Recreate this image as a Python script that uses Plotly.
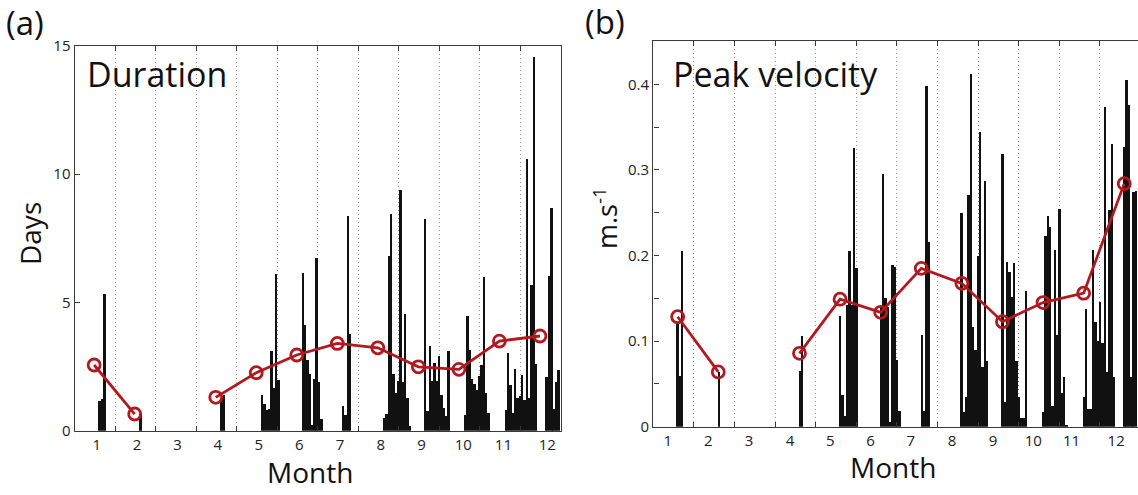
import plotly.graph_objects as go

# ---------------- data ----------------
MONTHS = list(range(1, 13))
MONTH_LABELS = [str(m) for m in MONTHS]

# Bar step (fraction of a month) between consecutive events
BAR_STEP = 0.0575

# Panel (a): event duration (days); clusters = (start position in months, heights)
DUR_CLUSTERS = [
    (0.58, [1.17, 1.26, 5.35]),
    (1.59, [0.68]),
    (3.59, [1.30, 1.42]),
    (4.59, [1.39, 1.04, 0.83, 0.85, 3.12, 1.69, 6.13, 1.97]),
    (5.59, [6.16, 4.12, 2.75, 2.24, 0.22, 2.04, 6.74, 1.91, 0.48]),
    (6.59, [0.97, 0.64, 8.38, 3.79]),
    (7.60, [0.52, 0.67, 6.80, 8.45, 2.24, 1.50, 1.95, 9.40, 1.90, 4.55, 1.30, 0.20]),
    (8.61, [8.25, 0.78, 3.30, 1.95, 2.65, 1.95, 2.91, 1.39, 0.90, 0.60, 3.12]),
    (9.60, [0.64, 4.48, 3.14, 2.04, 1.85, 1.60, 2.13, 2.56, 6.00, 1.47, 0.70]),
    (10.60, [0.82, 3.04, 1.80, 0.70, 2.40, 1.27, 1.36, 2.20, 1.20, 10.58, 1.27, 5.68, 14.57, 2.62]),
    (11.61, [2.10, 6.04, 8.69, 0.85, 1.91, 2.37]),
]
DUR_MEAN = [2.56, 0.65, None, 1.30, 2.26, 2.95, 3.40, 3.23, 2.49, 2.39, 3.49, 3.69]

# Panel (b): peak velocity (m/s)
VEL_CLUSTERS = [
    (0.576, [0.120, 0.060, 0.206]),
    (1.59, [0.064]),
    (3.59, [0.066, 0.106]),
    (4.58, [0.130, 0.037, 0.013, 0.143, 0.206, 0.143, 0.326, 0.186]),
    (5.58, [0.140, 0.296, 0.151, 0.140, 0.006, 0.189, 0.187, 0.078, 0.019]),
    (6.59, [0.108, 0.019, 0.398, 0.216]),
    (7.57, [0.250, 0.018, 0.035, 0.271, 0.413, 0.117, 0.090, 0.200, 0.345, 0.070, 0.287, 0.077]),
    (8.58, [0.319, 0.029, 0.193, 0.181, 0.152, 0.192, 0.077, 0.035, 0.011, 0.011, 0.159]),
    (9.58, [0.018, 0.223, 0.246, 0.234, 0.025, 0.207, 0.108, 0.255, 0.040, 0.058, 0.002]),
    (10.58, [0.035, 0.138, 0.021, 0.021, 0.207, 0.123, 0.100, 0.146, 0.098, 0.374, 0.064, 0.254, 0.331, 0.058]),
    (11.58, [0.327, 0.406, 0.376, 0.058, 0.275, 0.276]),
]
VEL_MEAN = [0.1285, 0.064, None, 0.0857, 0.149, 0.1336, 0.185, 0.1675, 0.1227, 0.145, 0.156, 0.284]

PANEL_TITLES = ["Duration", "Peak velocity"]
PANEL_LETTERS = ["(a)", "(b)"]
Y_TITLES = ["Days", "m.s<sup>-1</sup>"]
X_TITLE = "Month"


# ---------------- build ----------------
def expand(clusters):
    xs, ys = [], []
    for start, heights in clusters:
        for i, h in enumerate(heights):
            xs.append(start + (i + 0.5) * BAR_STEP)
            ys.append(h)
    return xs, ys


FONT = "Open Sans, Noto Sans, sans-serif"
RED = "#b3181f"
BAR = "#111111"
AX = "#3a3a3a"

fig = go.Figure()

dx, dy = expand(DUR_CLUSTERS)
vx, vy = expand(VEL_CLUSTERS)

fig.add_trace(go.Bar(x=dx, y=dy, width=[BAR_STEP * 1.02] * len(dx), marker=dict(color=BAR, line=dict(width=0)),
                     xaxis="x", yaxis="y", showlegend=False))
fig.add_trace(go.Bar(x=vx, y=vy, width=[BAR_STEP * 1.02] * len(vx), marker=dict(color=BAR, line=dict(width=0)),
                     xaxis="x2", yaxis="y2", showlegend=False))

mark = dict(symbol="circle-open", size=12, color=RED, line=dict(width=2.8, color=RED))
fig.add_trace(go.Scatter(x=[m - 0.52 for m in MONTHS], y=DUR_MEAN, mode="lines+markers",
                         line=dict(color=RED, width=2.8), marker=mark, connectgaps=False,
                         xaxis="x", yaxis="y", showlegend=False))
fig.add_trace(go.Scatter(x=[m - 0.40 for m in MONTHS], y=VEL_MEAN, mode="lines+markers",
                         line=dict(color=RED, width=2.8), marker=mark, connectgaps=False,
                         xaxis="x2", yaxis="y2", showlegend=False))

W, H = 1138, 495
def px_x(v):
    return v / W
def px_y(v):
    return 1 - v / H

# tick label positions (months)
lab_a = [0.546, 1.54, 2.54, 3.53, 4.54, 5.54, 6.55, 7.55, 8.56, 9.59, 10.58, 11.66]
lab_b = [0.355, 1.355, 2.357, 3.37, 4.36, 5.35, 6.34, 7.36, 8.37, 9.36, 10.3, 11.4]

common_x = dict(
    showgrid=False, zeroline=False, showline=True, linecolor=AX, linewidth=1.4,
    ticks="", ticktext=MONTH_LABELS, tickmode="array", automargin=False,
    tickfont=dict(family=FONT, size=15, color="#222"),
    minor=dict(tickmode="array", tickvals=list(range(1, 12)), ticks="inside", ticklen=5,
               tickcolor=AX, showgrid=True, griddash="1px,3px", gridcolor="#9a9a9a", gridwidth=1),
)

fig.update_layout(
    width=W, height=H, margin=dict(l=0, r=0, t=0, b=0, autoexpand=False),
    paper_bgcolor="white", plot_bgcolor="white", bargap=0,
    xaxis=dict(domain=[px_x(74.7), px_x(561)], range=[0, 12], anchor="y",
               tickvals=lab_a, mirror="ticks", **common_x),
    yaxis=dict(domain=[px_y(430.7), px_y(45.7)], range=[0, 15.0], anchor="x",
               tickvals=[0, 5, 10, 15], ticks="inside", ticklen=5, tickcolor=AX, automargin=False,
               showgrid=False, zeroline=False, showline=True, linecolor=AX, linewidth=1.4,
               mirror=True, tickfont=dict(family=FONT, size=15, color="#222")),
    xaxis2=dict(domain=[px_x(653.3), 1.0], range=[0, (W - 653.3) / 40.6], anchor="y2",
                tickvals=lab_b, mirror="ticks", **common_x),
    yaxis2=dict(domain=[px_y(426.7), px_y(40.7)], range=[0, 0.451], anchor="x2",
                tickvals=[0, 0.1, 0.2, 0.3, 0.4], ticktext=["0", "0.1", "0.2", "0.3", "0.4"],
                ticks="inside", ticklen=5, tickcolor=AX, automargin=False,
                minor=dict(tickvals=[0.05, 0.15, 0.25, 0.35], ticks="inside", ticklen=5, tickcolor=AX),
                showgrid=False, zeroline=False, showline=True, linecolor=AX, linewidth=1.4,
                mirror=False, tickfont=dict(family=FONT, size=15, color="#222")),
)

def note(text, x, y, size, angle=0, xanchor="center"):
    return dict(text=text, x=px_x(x), y=px_y(y), xref="paper", yref="paper",
                xanchor=xanchor, yanchor="middle", textangle=angle, showarrow=False,
                font=dict(family=FONT, size=size, color="#111"))

ann = [
    note(PANEL_LETTERS[0], 25, 23, 33),
    note(PANEL_LETTERS[1], 605, 21, 33),
    note(PANEL_TITLES[0], 85, 74, 34, xanchor="left"),
    note(PANEL_TITLES[1], 671, 74, 34, xanchor="left"),
    note(Y_TITLES[0], 30, 234, 28, angle=-90),
    note(Y_TITLES[1], 606, 218, 27, angle=-90),
    note(X_TITLE, 310, 472, 28),
    note(X_TITLE, 893, 467, 28),
]
fig.update_layout(annotations=ann)

fig.write_html("out.html")
